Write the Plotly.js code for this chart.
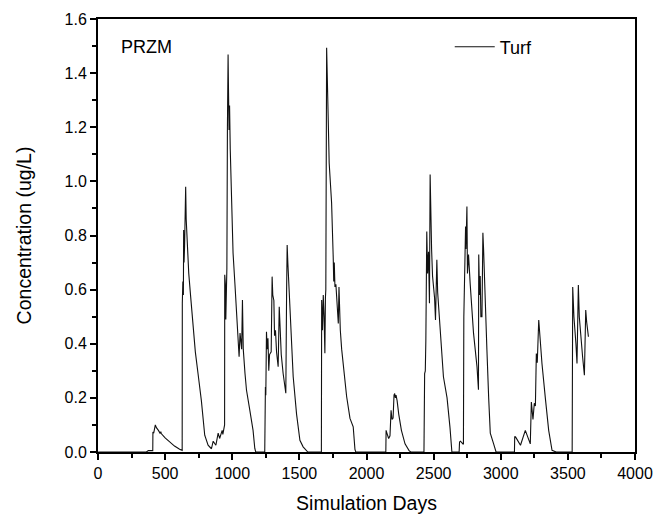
<!DOCTYPE html>
<html>
<head>
<meta charset="utf-8">
<script src="https://cdn.plot.ly/plotly-3.0.1.min.js"></script>
<style>
  html, body { margin: 0; padding: 0; background: #fff; }
  #chart { width: 655px; height: 518px; }
</style>
</head>
<body>
<div id="chart"></div>
<script>
// PRZM simulated concentration for turf, daily series (simulation day, ug/L)
const days = [
  1, 360, 375, 395, 408, 409, 415, 427, 435, 450, 462, 468, 471, 500, 534, 570, 608, 627,
  628, 632, 636, 638, 641, 645, 650, 653, 657, 662, 668, 676, 688, 708, 725, 745, 770, 795, 820, 845,
  858, 878, 895, 906, 925, 930, 938, 943,
  944, 949, 952, 955, 960, 964, 969, 972, 976, 980, 985, 994, 1006, 1020, 1031, 1040, 1051, 1058, 1064, 1070,
  1076, 1082, 1095, 1106, 1131, 1155, 1168, 1175,
  1242, 1243, 1247, 1250, 1255, 1260, 1266, 1272, 1278, 1290, 1297, 1302, 1310, 1315, 1322, 1330, 1342,
  1350, 1356, 1365, 1379, 1392, 1399, 1405, 1409, 1414, 1420, 1429, 1440, 1454, 1479, 1504, 1528, 1553, 1563,
  1664, 1666, 1672, 1678, 1684, 1690, 1694, 1697, 1703, 1708, 1714, 1722, 1740, 1752, 1756, 1760, 1765, 1772,
  1778, 1785, 1790, 1795, 1800, 1805, 1815, 1827, 1852, 1877, 1901, 1914, 1920,
  2144, 2146, 2152, 2165, 2175, 2183, 2190, 2198, 2205, 2210, 2215, 2220, 2228, 2240, 2260, 2287, 2317, 2330,
  2428, 2429, 2433, 2438, 2442, 2449, 2455, 2462, 2469, 2474, 2478, 2485, 2492, 2500, 2507, 2514, 2524, 2530,
  2549, 2573, 2600, 2610, 2622, 2636,
  2690, 2693, 2700, 2718, 2722, 2725, 2730, 2738, 2741, 2748, 2752, 2760, 2772, 2797, 2823, 2834, 2836, 2842,
  2847, 2852, 2860, 2867, 2872, 2880, 2897, 2910, 2922, 2947, 2965,
  3102, 3104, 3110, 3147, 3183, 3220, 3228, 3240, 3250, 3258, 3265, 3272, 3283, 3290, 3307, 3332, 3357, 3382, 3413,
  3532, 3534, 3536, 3545, 3555, 3560, 3568, 3578, 3585, 3598, 3610, 3623, 3633, 3640, 3653
];
const turf = [
  0, 0, 0.005, 0.004, 0.005, 0.074, 0.07, 0.10, 0.09, 0.08, 0.07, 0.075, 0.068, 0.052, 0.037, 0.022, 0.01, 0.006,
  0.55, 0.63, 0.58, 0.82, 0.70, 0.76, 0.92, 0.98, 0.86, 0.80, 0.72, 0.66, 0.587, 0.45, 0.37, 0.29, 0.19, 0.062, 0.025, 0.012,
  0.04, 0.025, 0.07, 0.05, 0.08, 0.065, 0.09, 0.10,
  0.655, 0.62, 0.49, 0.60, 0.68, 1.20, 1.469, 1.34, 1.19, 1.28, 1.12, 0.932, 0.735, 0.62, 0.537, 0.45, 0.352, 0.44, 0.40, 0.38,
  0.562, 0.38, 0.29, 0.229, 0.154, 0.08, 0.013, 0,
  0, 0.20, 0.24, 0.21, 0.444, 0.38, 0.42, 0.30, 0.36, 0.37, 0.648, 0.58, 0.56, 0.43, 0.45, 0.37, 0.315,
  0.537, 0.44, 0.36, 0.29, 0.25, 0.217, 0.60, 0.765, 0.70, 0.64, 0.56, 0.42, 0.278, 0.14, 0.043, 0.019, 0.006, 0,
  0, 0.562, 0.45, 0.58, 0.50, 0.365, 0.57, 0.60, 1.494, 1.41, 1.25, 1.068, 0.92, 0.72, 0.63, 0.70, 0.61, 0.62,
  0.55, 0.48, 0.475, 0.61, 0.52, 0.45, 0.38, 0.327, 0.205, 0.124, 0.093, 0.01, 0,
  0, 0.08, 0.07, 0.05, 0.06, 0.154, 0.12, 0.125, 0.21, 0.216, 0.20, 0.21, 0.19, 0.14, 0.08, 0.03, 0.005, 0,
  0, 0.24, 0.29, 0.30, 0.41, 0.815, 0.66, 0.74, 0.55, 1.025, 0.87, 0.747, 0.65, 0.60, 0.57, 0.488, 0.71, 0.59,
  0.463, 0.278, 0.20, 0.154, 0.09, 0,
  0, 0.037, 0.04, 0.03, 0.03, 0.50, 0.66, 0.833, 0.75, 0.907, 0.66, 0.73, 0.624, 0.44, 0.315, 0.23, 0.73, 0.58,
  0.65, 0.50, 0.50, 0.81, 0.75, 0.60, 0.377, 0.20, 0.07, 0.03, 0,
  0, 0.056, 0.056, 0.025, 0.08, 0.03, 0.185, 0.12, 0.18, 0.17, 0.364, 0.33, 0.488, 0.44, 0.327, 0.20, 0.08, 0.006, 0,
  0, 0.24, 0.61, 0.50, 0.45, 0.40, 0.327, 0.617, 0.50, 0.40, 0.35, 0.284, 0.525, 0.48, 0.426
];
const seriesName = 'Turf';
const modelLabel = 'PRZM';
const xTitle = 'Simulation Days';
const yTitle = 'Concentration (ug/L)';

const FONT = 'Liberation Sans, Arial, sans-serif';

const trace = {
  x: days,
  y: turf,
  type: 'scatter',
  mode: 'lines',
  name: seriesName,
  line: { color: '#111', width: 1.1 }
};

const axisCommon = {
  showgrid: false,
  zeroline: false,
  showline: true,
  mirror: true,
  linecolor: '#000',
  linewidth: 2,
  ticks: 'outside',
  ticklen: 6,
  tickwidth: 2,
  tickcolor: '#000',
  tickfont: { family: FONT, size: 16, color: '#000' }
};

const layout = {
  width: 655,
  height: 518,
  margin: { l: 98, r: 20, t: 19, b: 66 },
  paper_bgcolor: '#fff',
  plot_bgcolor: '#fff',
  font: { family: FONT, color: '#000' },
  xaxis: Object.assign({}, axisCommon, {
    range: [0, 4000],
    dtick: 500,
    tick0: 0,
    minor: { dtick: 250, ticks: 'outside', ticklen: 4, tickwidth: 2, tickcolor: '#000' },
    title: { text: xTitle, font: { family: FONT, size: 19.5 }, standoff: 15 }
  }),
  yaxis: Object.assign({}, axisCommon, {
    range: [0, 1.6],
    dtick: 0.2,
    tick0: 0,
    tickformat: '.1f',
    minor: { dtick: 0.1, ticks: 'outside', ticklen: 4, tickwidth: 2, tickcolor: '#000' },
    title: { text: yTitle, font: { family: FONT, size: 19.5 }, standoff: 28 }
  }),
  showlegend: true,
  legend: {
    x: 0.655, y: 0.978, xanchor: 'left', yanchor: 'top',
    itemwidth: 40,
    bgcolor: 'rgba(0,0,0,0)',
    font: { family: FONT, size: 18, color: '#000' }
  },
  annotations: [{
    text: modelLabel,
    xref: 'paper', yref: 'paper',
    x: 0.04, y: 0.935, xanchor: 'left', yanchor: 'middle',
    showarrow: false,
    font: { family: FONT, size: 18, color: '#000' }
  }]
};

Plotly.newPlot('chart', [trace], layout, { staticPlot: true, displayModeBar: false });
</script>
</body>
</html>
